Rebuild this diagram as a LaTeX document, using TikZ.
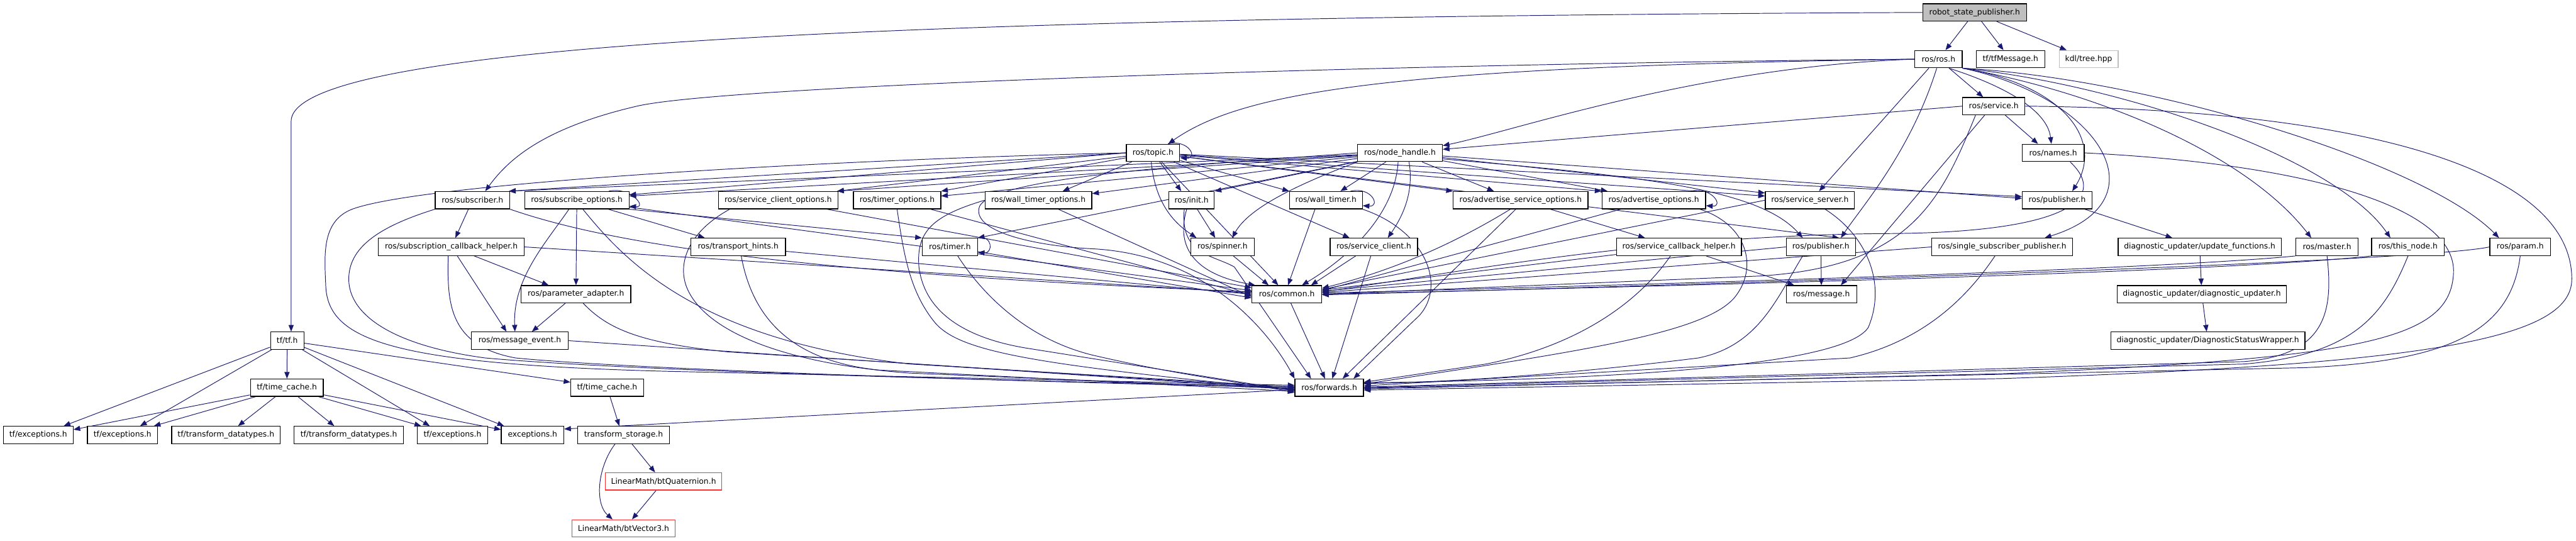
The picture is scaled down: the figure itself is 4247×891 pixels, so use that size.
\documentclass[tikz,border=0pt]{standalone}
\usepackage{fontspec}
\setmainfont{DejaVu Sans}
\usetikzlibrary{arrows.meta}
\definecolor{edgec}{HTML}{191970}
\definecolor{grayc}{HTML}{BFBFBF}
\definecolor{redc}{HTML}{FF3030}
\pgfdeclarelayer{back}
\pgfdeclarelayer{bg}
\pgfsetlayers{back,bg,main}
\begin{document}
\begin{tikzpicture}[x=1pt,y=1pt,
  box/.style={draw=black, line width=1.3pt, fill=white, inner sep=0pt, minimum height=28.5pt, font=\fontsize{12.8}{15}\selectfont, text=black},
  e/.style={draw=edgec, line width=1pt, -{Triangle[length=11pt,width=8.5pt]}}
]
\useasboundingbox (0,0) rectangle (4247,-891);
\begin{pgfonlayer}{back}
\fill[white] (0,0) rectangle (4247,-891);
\end{pgfonlayer}
% row 0-3
\node[box,minimum width=171,fill=grayc] (rsp) at (3255.5,-20.5) {robot\_state\_publisher.h};
\node[box,minimum width=78] (ros) at (3196,-97.5) {ros/ros.h};
\node[box,minimum width=113] (tfmsg) at (3314.5,-97.5) {tf/tfMessage.h};
\node[box,minimum width=97,draw=grayc] (kdl) at (3443.5,-97.5) {kdl/tree.hpp};
\node[box,minimum width=103] (service) at (3287,-175) {ros/service.h};
\node[box,minimum width=88] (topic) at (1901,-252) {ros/topic.h};
\node[box,minimum width=140] (nh) at (2308,-252) {ros/node\_handle.h};
\node[box,minimum width=102] (names) at (3385,-252) {ros/names.h};
% row 4
\node[box,minimum width=123] (sub) at (779,-330) {ros/subscriber.h};
\node[box,minimum width=172] (subopt) at (951,-330) {ros/subscribe\_options.h};
\node[box,minimum width=197] (sco) at (1283,-330) {ros/service\_client\_options.h};
\node[box,minimum width=144] (topt) at (1479,-330) {ros/timer\_options.h};
\node[box,minimum width=176] (wtopt) at (1712,-330) {ros/wall\_timer\_options.h};
\node[box,minimum width=75] (init) at (1964.5,-330) {ros/init.h};
\node[box,minimum width=120] (wt) at (2186,-330) {ros/wall\_timer.h};
\node[box,minimum width=222] (aso) at (2507,-330) {ros/advertise\_service\_options.h};
\node[box,minimum width=171] (ao) at (2726.5,-330) {ros/advertise\_options.h};
\node[box,minimum width=147] (ss) at (2984,-330) {ros/service\_server.h};
\node[box,minimum width=115] (pubU) at (3391.5,-330) {ros/publisher.h};
% row 5
\node[box,minimum width=240] (sch) at (744,-407) {ros/subscription\_callback\_helper.h};
\node[box,minimum width=156] (th) at (1217,-407) {ros/transport\_hints.h};
\node[box,minimum width=91] (timer) at (1566,-407) {ros/timer.h};
\node[box,minimum width=105] (spin) at (2015.5,-407) {ros/spinner.h};
\node[box,minimum width=144] (sc) at (2265,-407) {ros/service\_client.h};
\node[box,minimum width=206] (scbh) at (2768,-407) {ros/service\_callback\_helper.h};
\node[box,minimum width=114] (pubL) at (3002,-407) {ros/publisher.h};
\node[box,minimum width=232] (ssp) at (3301,-407) {ros/single\_subscriber\_publisher.h};
\node[box,minimum width=269] (uf) at (3626.5,-407) {diagnostic\_updater/update\_functions.h};
\node[box,minimum width=103] (master) at (3836.5,-407) {ros/master.h};
\node[box,minimum width=120] (thisnode) at (3970,-407) {ros/this\_node.h};
\node[box,minimum width=100] (param) at (4155,-407) {ros/param.h};
% row 6
\node[box,minimum width=181] (pa) at (949.5,-485) {ros/parameter\_adapter.h};
\node[box,minimum width=115] (common) at (2121.5,-485) {ros/common.h};
\node[box,minimum width=116] (msg) at (3003,-485) {ros/message.h};
\node[box,minimum width=279] (du) at (3630,-485) {diagnostic\_updater/diagnostic\_updater.h};
% row 7
\node[box,minimum width=55] (tf) at (473.5,-561.5) {tf/tf.h};
\node[box,minimum width=160] (me) at (857,-561.5) {ros/message\_event.h};
\node[box,minimum width=320] (dsw) at (3640,-561.5) {diagnostic\_updater/DiagnosticStatusWrapper.h};
% row 8
\node[box,minimum width=120] (tcL) at (473,-639) {tf/time\_cache.h};
\node[box,minimum width=120] (tcR) at (1001,-639) {tf/time\_cache.h};
\node[box,minimum width=113] (fwd) at (2191.5,-639) {ros/forwards.h};
% row 9
\node[box,minimum width=115] (ex1) at (63,-717) {tf/exceptions.h};
\node[box,minimum width=116] (ex2) at (202,-717) {tf/exceptions.h};
\node[box,minimum width=179] (td1) at (372.5,-717) {tf/transform\_datatypes.h};
\node[box,minimum width=180] (td2) at (575,-717) {tf/transform\_datatypes.h};
\node[box,minimum width=116] (ex3) at (746,-717) {tf/exceptions.h};
\node[box,minimum width=103] (exc) at (878,-717) {exceptions.h};
\node[box,minimum width=152] (ts) at (1028,-717) {transform\_storage.h};
\node[box,minimum width=192,draw=redc] (btq) at (1094,-793.5) {LinearMath/btQuaternion.h};
\node[box,minimum width=170,draw=redc] (btv) at (1028,-871) {LinearMath/btVector3.h};

\begin{pgfonlayer}{bg}
% top
\draw[e] (rsp) -- (ros);
\draw[e] (rsp) -- (tfmsg);
\draw[e] (rsp) -- (kdl);
\draw[e] (rsp.west) .. controls (1500,-28) and (480,-70) .. (480,-200) -- ([xshift=6.5pt]tf.north);
% ros.h
\draw[e] (ros) -- (service);
\draw[e] ([xshift=17pt]ros.south) .. controls (3300,-140) and (3375,-180) .. ([xshift=-3pt]names.north);
\draw[e] (ros.south east) .. controls (3400,-140) and (3470,-230) .. ([xshift=25pt]pubU.north);
\draw[e] (ros.south east) .. controls (3460,-160) and (3570,-330) .. ([xshift=70pt]ssp.north);
\draw[e] (ros.south east) .. controls (3450,-150) and (3700,-250) .. ([xshift=-26pt]master.north);
\draw[e] (ros.south east) .. controls (3500,-140) and (3850,-260) .. ([xshift=-29pt]thisnode.north);
\draw[e] (ros.south east) .. controls (3550,-130) and (4000,-270) .. ([xshift=-35pt]param.north);
\draw[e] (ros.west) .. controls (2300,-110) and (2050,-150) .. ([xshift=25pt]topic.north);
\draw[e] (ros.west) .. controls (2800,-110) and (2500,-215) .. ([yshift=-3pt]nh.north east);
\draw[e] (ros.west) .. controls (2300,-105) and (1200,-140) .. (1050,-175) .. controls (900,-210) and (840,-260) .. ([xshift=21pt]sub.north);
\draw[e] ([xshift=-16pt]ros.south) -- ([xshift=15pt]ss.north);
\draw[e] ([xshift=-3pt]ros.south) .. controls (3150,-250) and (3070,-340) .. ([xshift=33pt]pubL.north);
% service.h
\draw[e] (service.west) -- ([yshift=-9pt]nh.north east);
\draw[e] ([xshift=19pt]service.south) -- ([xshift=-25pt]names.north);
\draw[e] ([xshift=-15pt]service.south) -- ([xshift=32pt]msg.north);
\draw[e] ([xshift=-30pt]service.south) .. controls (3200,-330) and (3150,-440) .. (2900,-455) -- (common.east);
\draw[e] (service.east) .. controls (3900,-180) and (4240,-280) .. (4240,-460) .. controls (4240,-560) and (4000,-600) .. (3300,-624) -- ([yshift=-4pt]fwd.east);
% names.h
\draw[e] (names.east) .. controls (3800,-270) and (4050,-340) .. (4045,-450) .. controls (4040,-560) and (3900,-590) .. (3300,-616) -- ([yshift=-2pt]fwd.east);
\draw[e] ([xshift=28pt]names.south) .. controls (3480,-330) and (3400,-385) .. (3100,-385) .. controls (2700,-390) and (2400,-450) .. ([yshift=4pt]common.east);
% master, this_node, param
\draw[e] (master.south west) .. controls (3600,-440) and (3000,-462) .. ([yshift=2pt]common.east);
\draw[e] (master.south) .. controls (3848,-520) and (3830,-585) .. (3700,-596) -- ([yshift=1pt]fwd.east);
\draw[e] (thisnode.south west) .. controls (3700,-445) and (3000,-466) .. (common.east);
\draw[e] (thisnode.south) .. controls (3930,-520) and (3880,-585) .. (3700,-600) -- (fwd.east);
\draw[e] (param.west) .. controls (4000,-430) and (3000,-464) .. ([yshift=-1pt]common.east);
\draw[e] (param.south) .. controls (4140,-540) and (4050,-595) .. (3800,-606) -- ([yshift=-1pt]fwd.east);
% ssp
\draw[e] (ssp.west) -- ([yshift=3pt]common.east);
\draw[e] ([xshift=-12pt]ssp.south) .. controls (3250,-480) and (3180,-560) .. (3050,-590) -- ([yshift=3pt]fwd.east);
% topic.h
\draw[e] (topic.west) -- ([xshift=-2pt]sub.north east);
\draw[e] (topic.west) -- ([yshift=-6pt]subopt.north east);
\draw[e] (topic) -- ([xshift=-2pt]sco.north east);
\draw[e] (topic) -- (topt.north east);
\draw[e] (topic) -- ([xshift=40pt]wtopt.north);
\draw[e] (topic) -- ([xshift=-17pt]init.north);
\draw[e] ([xshift=-3pt]topic.south) .. controls (1905,-340) and (1940,-370) .. ([xshift=-43pt]spin.north);
\draw[e] (topic) -- (wt.north west);
\draw[e] (topic) -- ([xshift=-40pt]sc.north);
\draw[e] (topic) -- (aso.north west);
\draw[e] (topic) -- (ao.north west);
\draw[e] (topic) -- ([yshift=-8pt]ss.north west);
\draw[e] (topic) -- ([yshift=6pt]pubU.west);
\draw[e] (topic) -- ([xshift=30pt]pubL.north);
\draw[e] (topic) -- (common);
\draw[e] (topic.west) .. controls (1400,-262) and (700,-300) .. (580,-345) .. controls (530,-365) and (535,-420) .. (537,-470) .. controls (540,-560) and (640,-600) .. (1100,-612) -- ([yshift=4pt]fwd.west);
\draw[e] ([xshift=-20pt]topic.north east) .. controls +(35,8) and +(30,-2) .. ([yshift=-8pt]topic.east);
% node_handle.h
\draw[e] (nh) -- ([xshift=-2pt]sub.north east);
\draw[e] (nh) -- ([yshift=-8pt]subopt.north east);
\draw[e] (nh) -- ([xshift=-2pt]sco.north east);
\draw[e] (nh) -- ([yshift=-8pt]topt.north east);
\draw[e] (nh) -- ([yshift=-4pt]wtopt.north east);
\draw[e] (nh) -- (init.north east);
\draw[e] ([xshift=-70pt]nh.south) .. controls (2150,-300) and (2060,-340) .. ([xshift=16pt]spin.north);
\draw[e] (nh) -- (timer.north east);
\draw[e] (nh) -- ([xshift=24pt]wt.north);
\draw[e] ([xshift=15pt]nh.south) .. controls (2332,-320) and (2310,-360) .. ([xshift=23pt]sc.north);
\draw[e] (nh) -- ([xshift=-44pt]aso.north);
\draw[e] (nh) -- ([xshift=10pt]ao.north west);
\draw[e] (nh) -- ([yshift=-3pt]ss.north west);
\draw[e] (nh) -- ([yshift=3pt]pubU.west);
\draw[e] ([yshift=-10pt]nh.east) .. controls (2700,-290) and (2900,-310) .. ([xshift=-30pt]pubL.north);
\draw[e] ([xshift=-3pt]nh.south) .. controls (2300,-350) and (2230,-420) .. ([xshift=25pt]common.north);
\draw[e] (nh.west) .. controls (2000,-270) and (1640,-290) .. (1615,-340) .. controls (1600,-380) and (1700,-405) .. (1800,-410) .. controls (2000,-420) and (2100,-560) .. (fwd.north west);
% subscriber
\draw[e] (sub) -- (sch);
\draw[e] (sub.south east) .. controls (1000,-400) and (1300,-450) .. ([yshift=4pt]common.west);
\draw[e] (sub.south west) .. controls (620,-375) and (575,-410) .. (575,-460) .. controls (575,-520) and (650,-570) .. (800,-590) .. controls (1000,-608) and (1500,-625) .. ([yshift=2pt]fwd.west);
% subscribe_options
\draw[e] (subopt) -- (pa);
\draw[e] ([xshift=-13pt]subopt.south) .. controls (900,-400) and (845,-460) .. ([xshift=-8pt]me.north);
\draw[e] ([xshift=52pt]subopt.south) -- ([xshift=-55pt]th.north);
\draw[e] (subopt.south east) -- (timer.north west);
\draw[e] (subopt) -- ([yshift=6pt]common.west);
\draw[e] ([xshift=10pt]subopt.south) .. controls (1030,-430) and (1150,-560) .. (1500,-600) -- ([yshift=1pt]fwd.west);
\draw[e] ([xshift=-34pt]subopt.north east) .. controls +(35,8) and +(30,-2) .. ([yshift=-10pt]subopt.east);
% subscription_callback_helper
\draw[e] (sch) -- ([xshift=-45pt]pa.north);
\draw[e] ([xshift=10pt]sch.south) -- ([xshift=-22pt]me.north);
\draw[e] (sch.east) -- ([yshift=2pt]common.west);
\draw[e] ([xshift=-5pt]sch.south) .. controls (737,-500) and (740,-570) .. (850,-590) .. controls (1000,-605) and (1500,-625) .. (fwd.west);
% parameter_adapter, message_event
\draw[e] (pa) -- ([xshift=20pt]me.north);
\draw[e] ([xshift=12pt]pa.south) .. controls (1000,-540) and (1050,-565) .. (1200,-580) -- ([yshift=-1pt]fwd.west);
\draw[e] (me.east) -- ([yshift=-3pt]fwd.west);
% service_client_options
\draw[e] (sco) -- (common);
\draw[e] ([xshift=-80pt]sco.south) .. controls (1130,-385) and (1115,-440) .. (1135,-480) .. controls (1170,-550) and (1300,-600) .. (1500,-615) -- ([yshift=-2pt]fwd.west);
% timer_options, wall_timer_options
\draw[e] (topt) -- ([yshift=-2pt]common.west);
\draw[e] (topt.south) .. controls (1490,-420) and (1500,-480) .. (1540,-530) .. controls (1580,-580) and (1700,-600) .. ([yshift=-4pt]fwd.west);
\draw[e] (wtopt) -- ([yshift=-4pt]common.west);
\draw[e] (wtopt.west) .. controls (1540,-355) and (1510,-380) .. (1515,-440) .. controls (1525,-520) and (1600,-560) .. (1700,-575) -- ([yshift=-5pt]fwd.west);
% transport hints, timer
\draw[e] (th) -- ([yshift=0pt]common.west);
\draw[e] ([xshift=5pt]th.south) .. controls (1240,-520) and (1300,-595) .. (1450,-610) -- ([yshift=-6pt]fwd.west);
\draw[e] (timer) -- ([yshift=-6pt]common.west);
\draw[e] ([xshift=13pt]timer.south) .. controls (1610,-470) and (1680,-555) .. (1800,-585) .. controls (1950,-620) and (2050,-630) .. ([yshift=-8pt]fwd.west);
\draw[e] (timer.north east) .. controls +(25,5) and +(25,-2) .. ([yshift=-9pt]timer.east);
% init, spinner
\draw[e] (init) -- ([xshift=-12pt]spin.north);
\draw[e] ([xshift=-8pt]init.south) .. controls (1940,-400) and (1960,-450) .. ([xshift=6pt]common.north west);
\draw[e] ([xshift=-12pt]init.south) .. controls (1945,-420) and (2000,-420) .. (2035,-440) -- ([xshift=-30pt]fwd.north);
\draw[e] (spin) -- ([xshift=-30pt]common.north);
% wall_timer
\draw[e] ([xshift=-18pt]wt.south) -- ([xshift=2pt]common.north);
\draw[e] (wt.south east) .. controls (2350,-380) and (2385,-470) .. (2340,-520) -- ([xshift=40pt]fwd.north);
\draw[e] ([xshift=-20pt]wt.north east) .. controls +(35,8) and +(30,-2) .. ([yshift=-9pt]wt.east);
% service_client
\draw[e] ([xshift=-30pt]sc.south) -- ([xshift=40pt]common.north);
\draw[e] ([xshift=-5pt]sc.south) -- ([xshift=5pt]fwd.north);
% advertise_service_options
\draw[e] (aso) -- ([xshift=-56pt]scbh.north);
\draw[e] ([xshift=-17pt]aso.south) .. controls (2400,-400) and (2300,-445) .. ([yshift=-5pt]common.north east);
\draw[e] ([xshift=-8pt]aso.south) -- ([xshift=22pt]fwd.north);
% advertise_options
\draw[e] (ao) -- ([yshift=6pt]common.east);
\draw[e] ([xshift=-10pt]ao.south east) .. controls (2880,-370) and (2900,-440) .. (2860,-490) .. controls (2810,-550) and (2600,-580) .. ([yshift=6pt]fwd.east);
\draw[e] ([xshift=-25pt]ao.north east) .. controls +(35,8) and +(30,-2) .. ([yshift=-9pt]ao.east);
% service_server
\draw[e] (ss.west) -- ([yshift=8pt]common.east);
\draw[e] ([xshift=25pt]ss.south) .. controls (3080,-390) and (3110,-470) .. (3080,-540) .. controls (3040,-600) and (2700,-625) .. ([yshift=8pt]fwd.east);
% service_callback_helper
\draw[e] (scbh) -- ([xshift=-45pt]msg.north);
\draw[e] (scbh) -- ([yshift=7pt]common.east);
\draw[e] ([xshift=-14pt]scbh.south) .. controls (2700,-500) and (2600,-570) .. (2450,-600) -- ([yshift=9pt]fwd.east);
% publisher (lower)
\draw[e] (pubL) -- (msg);
\draw[e] (pubL.west) -- ([yshift=5pt]common.east);
\draw[e] ([xshift=-30pt]pubL.south) .. controls (2930,-490) and (2900,-570) .. (2800,-590) .. controls (2600,-615) and (2400,-630) .. ([yshift=7pt]fwd.east);
% publisher (upper), diagnostic
\draw[e] (pubU) -- ([xshift=-45pt]uf.north);
\draw[e] (uf) -- (du);
\draw[e] (du) -- (dsw);
% common, forwards
\draw[e] (common) -- ([xshift=-7pt]fwd.north);
\draw[e] (fwd) -- ([yshift=-5pt]exc.north east);
% tf
\draw[e] (tf) -- ([xshift=42pt]ex1.north);
\draw[e] (tf) -- ([xshift=29pt]ex2.north);
\draw[e] (tf) -- (tcL);
\draw[e] (tf) -- ([xshift=-37.5pt]ex3.north);
\draw[e] (tf) -- ([xshift=-47pt]exc.north);
\draw[e] (tf) -- ([yshift=9pt]tcR.west);
\draw[e] (tcL) -- ([yshift=-6pt]ex1.north east);
\draw[e] (tcL) -- ([xshift=-7pt]ex2.north east);
\draw[e] (tcL) -- ([xshift=20pt]td1.north);
\draw[e] (tcL) -- ([xshift=-24pt]td2.north);
\draw[e] (tcL) -- ([xshift=7pt]ex3.north west);
\draw[e] (tcL) -- ([yshift=-6pt]exc.north west);
\draw[e] (tcR) -- ([xshift=-7pt]ts.north);
\draw[e] ([xshift=14pt]ts.south) -- ([xshift=-14pt]btq.north);
\draw[e] ([xshift=-14pt]ts.south) .. controls (985,-770) and (980,-830) .. ([xshift=-18pt]btv.north);
\draw[e] (btq) -- ([xshift=14pt]btv.north);
\end{pgfonlayer}
\end{tikzpicture}
\end{document}
